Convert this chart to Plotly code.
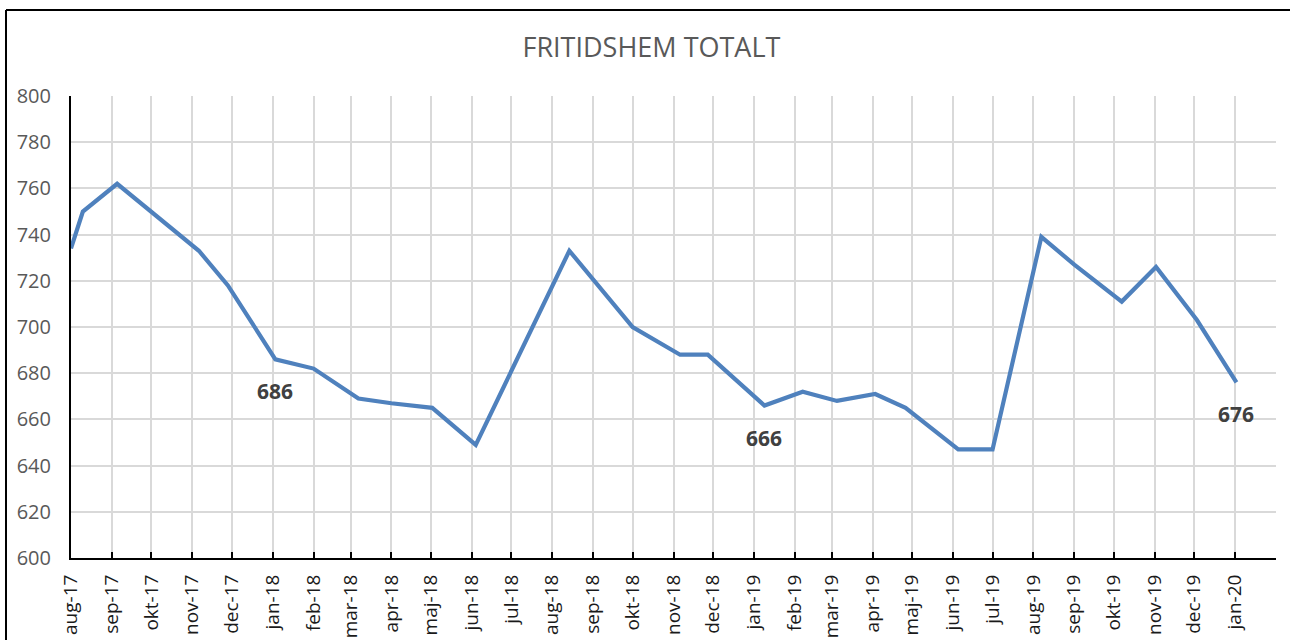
import pandas as pd
import plotly.graph_objects as go

dates = ["2017-08-01", "2017-08-10", "2017-09-05", "2017-10-01", "2017-11-06",
         "2017-11-28", "2018-01-03", "2018-02-01", "2018-03-07", "2018-04-01",
         "2018-05-02", "2018-06-04", "2018-08-14", "2018-10-01", "2018-11-06",
         "2018-11-27", "2019-01-09", "2019-02-07", "2019-03-05", "2019-04-03",
         "2019-04-26", "2019-06-05", "2019-07-01", "2019-08-07", "2019-09-01",
         "2019-10-07", "2019-11-02", "2019-12-03", "2020-01-02"]
totals = [734, 750, 762, 750, 733,
          718, 686, 682, 669, 667,
          665, 649, 733, 700, 688,
          688, 666, 672, 668, 671,
          665, 647, 647, 739, 727,
          711, 726, 703, 676]
labelled = [6, 16, 28]  # points that carry a value label

month_labels = ["aug-17", "sep-17", "okt-17", "nov-17", "dec-17", "jan-18", "feb-18",
                "mar-18", "apr-18", "maj-18", "jun-18", "jul-18", "aug-18", "sep-18",
                "okt-18", "nov-18", "dec-18", "jan-19", "feb-19", "mar-19", "apr-19",
                "maj-19", "jun-19", "jul-19", "aug-19", "sep-19", "okt-19", "nov-19",
                "dec-19", "jan-20", ""]

tick_dates = pd.date_range("2017-08-01", periods=len(month_labels), freq="MS")
FONT = "Open Sans"

fig = go.Figure()
fig.add_trace(go.Scatter(
    x=pd.to_datetime(dates), y=totals, mode="lines",
    line=dict(color="#4F81BD", width=4.2), showlegend=False,
    hoverinfo="x+y"))

annotations = []
for i in labelled:
    annotations.append(dict(
        x=dates[i], y=totals[i], text=str(totals[i]), showarrow=False,
        yshift=-32, font=dict(family=FONT, size=21, color="#404040", weight="bold")))

# chart frame: only its top and left edges fall inside the picture
fx0, fx1 = (6 - 71) / 1205, (1300 - 71) / 1205
fy0, fy1 = (558 - 660) / 462, (558 - 10) / 462
frame = [dict(type="line", xref="paper", yref="paper", x0=fx0, x1=fx1, y0=fy1, y1=fy1,
              line=dict(color="black", width=2)),
         dict(type="line", xref="paper", yref="paper", x0=fx0, x1=fx0, y0=fy0, y1=fy1,
              line=dict(color="black", width=2))]

fig.update_layout(
    width=1290, height=640,
    margin=dict(l=71, r=14, t=96, b=82, autoexpand=False),
    paper_bgcolor="white", plot_bgcolor="white",
    title=dict(text="FRITIDSHEM TOTALT", x=0.505, xref="container", xanchor="center",
               y=1 - 48 / 640, yref="container", yanchor="middle",
               font=dict(family=FONT, size=27, color="#595959")),
    annotations=annotations,
    shapes=frame,
)

fig.update_xaxes(
    type="date", range=["2017-08-01", "2020-02-01"], automargin=False,
    tickvals=tick_dates, ticktext=month_labels, tickangle=-90,
    showgrid=True, gridcolor="#D9D9D9", gridwidth=1.5,
    showline=True, linecolor="black", linewidth=2,
    ticks="inside", ticklen=6, tickcolor="black", tickwidth=1.5,
    ticklabelstandoff=7,
    tickfont=dict(family=FONT, size=19, color="#1a1a1a"))

fig.update_yaxes(
    range=[600, 800], dtick=20, tick0=600, automargin=False,
    showgrid=True, gridcolor="#D9D9D9", gridwidth=1.5,
    showline=True, linecolor="black", linewidth=2,
    zeroline=False, ticks="", ticklabelstandoff=14,
    tickfont=dict(family=FONT, size=20, color="#595959"))

# drop the browser's default body margin so the figure sits at the page corner
fig.write_html("out.html", config={"displayModeBar": False},
               post_script="document.body.style.margin = '0';")
